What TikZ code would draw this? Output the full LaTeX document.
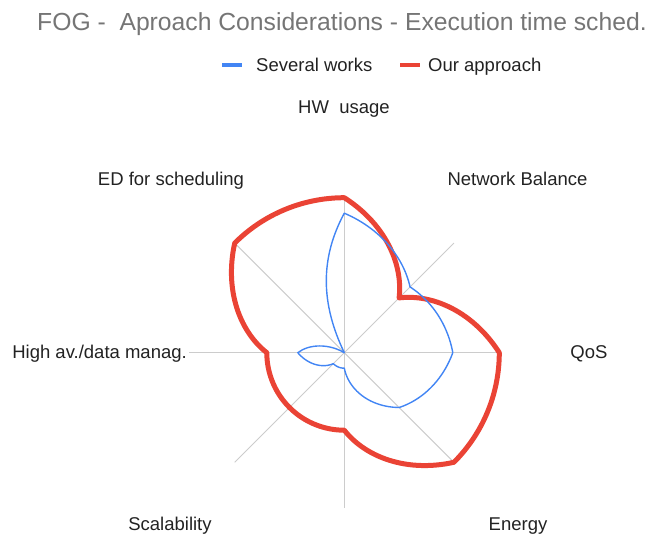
\documentclass[tikz,border=0pt]{standalone}
\usepackage{fontspec}
\setmainfont{Liberation Sans}
\definecolor{axisgray}{HTML}{CCCCCC}
\definecolor{serblue}{HTML}{4285F4}
\definecolor{serred}{HTML}{EA4335}
\definecolor{titlegray}{HTML}{757575}
\definecolor{labeltext}{HTML}{222222}
% one radar segment: start angle, start value, end value (linear in angle)
\newcommand\rseg[3]{-- plot[domain=0:1,samples=31] ({#1-45*\x}:{155*(#2+(#3-#2)*\x)})}
\begin{document}
\begin{tikzpicture}[x=1pt,y=1pt,
  axisline/.style={draw=axisgray, line width=1pt},
  blueline/.style={draw=serblue, line width=1.4pt, line join=round},
  redline/.style={draw=serred, line width=5pt, line join=round},
  lbl/.style={inner sep=0pt, text=labeltext, font=\fontsize{18.5}{20}\selectfont},
  ttl/.style={inner sep=0pt, text=titlegray, font=\fontsize{24.7}{28}\selectfont},
  legbar/.style={inner sep=0pt, minimum width=20pt, minimum height=4.5pt}
]
\useasboundingbox (0,0) rectangle (648,536);
% title
\node[ttl, anchor=base west] (title) at (37,505) {FOG -\ \ Aproach Considerations - Execution time sched.};
% legend
\node[legbar, fill=serblue] (legblue) at (232,471) {};
\node[lbl, anchor=base west] (legbluetxt) at (256,464.5) {Several works};
\node[legbar, fill=serred] (legred) at (410,471) {};
\node[lbl, anchor=base west] (legredtxt) at (428,464.5) {Our approach};
% axis labels
\node[lbl, anchor=base] (l-hw) at (344,422.5) {HW\ \ usage};
\node[lbl, anchor=base] (l-ed) at (171,350.5) {ED for scheduling};
\node[lbl, anchor=base] (l-nb) at (517.5,350.5) {Network Balance};
\node[lbl, anchor=base east] (l-ha) at (187,177.5) {High av./data manag.};
\node[lbl, anchor=base] (l-qos) at (589,177.5) {QoS};
\node[lbl, anchor=base] (l-sc) at (170,5.5) {Scalability};
\node[lbl, anchor=base] (l-en) at (518,5.5) {Energy};
% radar
\begin{scope}[shift={(344.3,183.3)}]
  \coordinate (c) at (0,0);
  \foreach \a/\n in {90/hw,45/nb,0/qos,-45/en,-90/dn,-135/sc,180/ha,135/ed}
    \coordinate (ax-\n) at (\a:155);
  \foreach \n in {hw,nb,qos,en,dn,sc,ha,ed}
    \draw[axisline] (c) -- (ax-\n);
  % Our approach
  \draw[redline] (90:155)
    \rseg{90}{1}{0.5}
    \rseg{45}{0.5}{1}
    \rseg{0}{1}{1}
    \rseg{-45}{1}{0.5}
    \rseg{-90}{0.5}{0.5}
    \rseg{-135}{0.5}{0.5}
    \rseg{-180}{0.5}{1}
    \rseg{-225}{1}{1}
    -- cycle;
  % Several works
  \draw[blueline] (90:139.5)
    \rseg{90}{0.9}{0.6}
    \rseg{45}{0.6}{0.7}
    \rseg{0}{0.7}{0.5}
    \rseg{-45}{0.5}{0.1}
    \rseg{-90}{0.1}{0.1}
    \rseg{-135}{0.1}{0.3}
    -- (180:46.5) .. controls (-35,9) and (-15,9) .. (c)
    .. controls (-24,50) and (-24,95) .. (90:139.5)
    -- cycle;
\end{scope}
\end{tikzpicture}
\end{document}
